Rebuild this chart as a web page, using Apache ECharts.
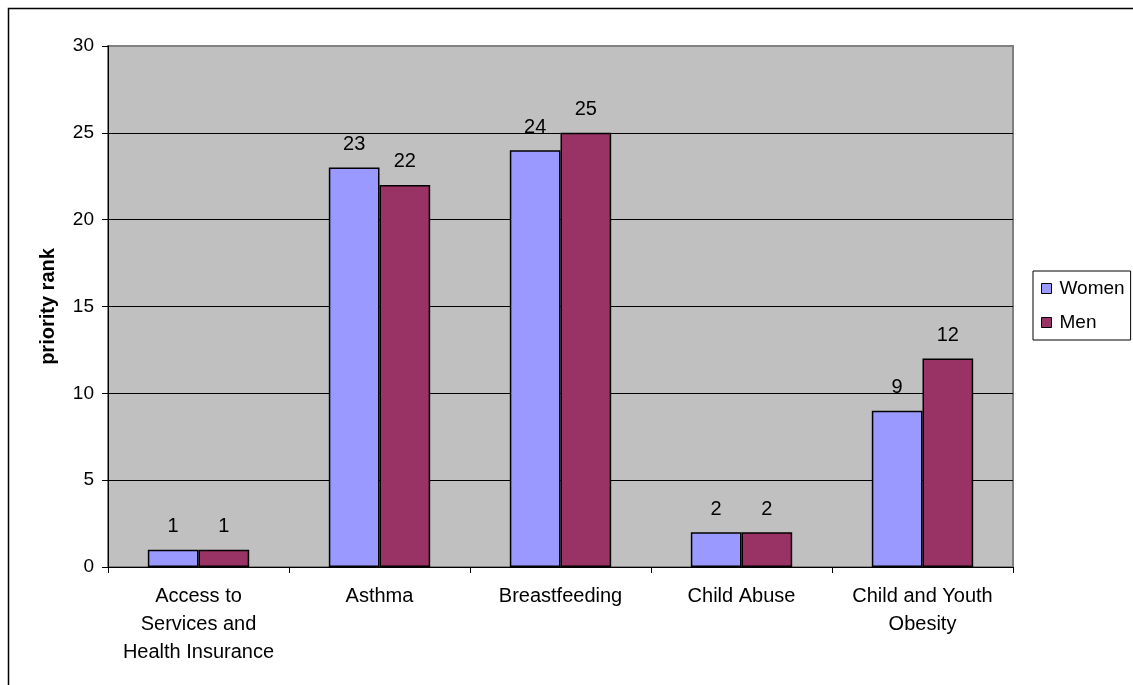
<!DOCTYPE html>
<html>
<head>
<meta charset="utf-8">
<script src="https://cdn.jsdelivr.net/npm/echarts@6/dist/echarts.min.js"></script>
<style>
html,body{margin:0;padding:0;background:#fff;}
#chart{width:1133px;height:685px;}
</style>
</head>
<body>
<div id="chart"></div>
<script>
const categories = ['Access to\nServices and\nHealth Insurance', 'Asthma', 'Breastfeeding', 'Child Abuse', 'Child and Youth\nObesity'];
const women = [1, 23, 24, 2, 9];
const men = [1, 22, 25, 2, 12];
const yTicks = [0, 5, 10, 15, 20, 25, 30];

const font = 'Arial, "Liberation Sans", sans-serif';
const chart = echarts.init(document.getElementById('chart'));
const labelCfg = {show: true, position: 'top', distance: 13, color: '#000', fontSize: 20, fontFamily: font};
chart.setOption({
  animation: false,
  backgroundColor: '#fff',
  graphic: [{
    type: 'rect', silent: true,
    shape: {x: 8.5, y: 8.5, width: 1300, height: 900},
    style: {fill: 'none', stroke: '#000', lineWidth: 1.5},
    z: -10
  }],
  grid: {left: 108, right: 120, top: 46, bottom: 118, show: true, backgroundColor: '#C0C0C0', borderColor: '#808080', borderWidth: 2, containLabel: false},
  legend: {
    orient: 'vertical', left: 1033, top: 271,
    data: ['Women', 'Men'],
    icon: 'rect', itemWidth: 10, itemHeight: 10, itemGap: 15,
    borderColor: '#000', borderWidth: 1, padding: [8, 6, 8, 8],
    backgroundColor: '#fff',
    textStyle: {fontSize: 19, fontFamily: font, color: '#000', padding: [0, 0, 0, 3]},
    itemStyle: {borderColor: '#000', borderWidth: 1}
  },
  xAxis: {
    type: 'category', data: categories,
    axisLine: {lineStyle: {color: '#000', width: 1}},
    axisTick: {show: true, length: 6, lineStyle: {color: '#000'}},
    axisLabel: {fontSize: 20, fontFamily: font, color: '#000', lineHeight: 28, margin: 15, interval: 0}
  },
  yAxis: {
    type: 'value', min: 0, max: 30, interval: 5,
    name: 'priority rank', nameLocation: 'middle', nameGap: 50,
    nameTextStyle: {fontSize: 20, fontWeight: 'bold', fontFamily: font, color: '#000'},
    axisLine: {show: true, lineStyle: {color: '#000', width: 1}},
    axisTick: {show: true, length: 6, lineStyle: {color: '#000'}},
    axisLabel: {fontSize: 19, fontFamily: font, color: '#000', margin: 14,
      formatter: v => yTicks.includes(v) ? String(v) : ''},
    splitLine: {show: true, lineStyle: {color: ['#000', '#000', '#000', '#000', '#000', '#000', '#808080'], width: 1}}
  },
  series: [
    {name: 'Women', type: 'bar', data: women, barGap: '0%', barCategoryGap: '44%',
     itemStyle: {color: '#9999FF', borderColor: '#000', borderWidth: 1.5}, label: labelCfg},
    {name: 'Men', type: 'bar', data: men, barGap: '0%', barCategoryGap: '44%',
     itemStyle: {color: '#993366', borderColor: '#000', borderWidth: 1.5}, label: labelCfg}
  ]
});
</script>
</body>
</html>
